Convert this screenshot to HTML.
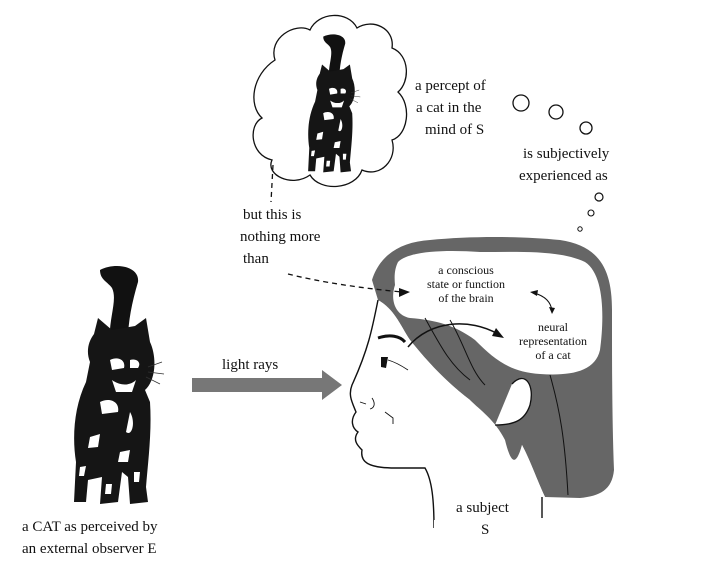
<!DOCTYPE html>
<html><head><meta charset="utf-8"><style>
html,body{margin:0;padding:0;background:#fff;}
svg{display:block}
text{font-family:"Liberation Serif",serif;fill:#111;}
</style></head><body>
<svg width="715" height="574" viewBox="0 0 715 574" xmlns="http://www.w3.org/2000/svg">
<defs>
<g id="cat">
  <path d="M40,8 C55,0 80,4 78,20 C72,40 68,60 68,78 L50,80 C48,58 58,38 52,26 C48,20 40,18 40,8Z" fill="#111"/>
  <path d="M34,72 L38,56 L52,68 L75,64 L86,56 L90,80 C97,95 96,118 85,128 L90,140 C92,170 88,200 86,225 L88,240 L70,242 L68,215 L62,210 L58,240 L40,242 L42,215 L28,218 L26,240 L14,240 L16,200 C12,175 14,145 26,120 L30,100 C26,90 28,80 34,72Z" fill="#151515"/>
  <path d="M50,98 C58,94 66,98 64,106 L52,108Z M70,98 C76,96 82,100 78,106 L70,106Z M52,118 C60,124 70,124 76,118 L72,130 L56,130Z M40,140 C50,135 60,140 58,150 L42,152Z M70,150 C76,160 72,175 66,170Z M30,175 L40,172 L38,185 L28,186Z M60,190 L70,188 L68,200 L58,200Z M20,205 L26,204 L24,214 L19,214Z M46,222 L52,222 L51,232 L45,232Z M74,210 L80,210 L79,220 L74,220Z" fill="#fff"/>
  <path d="M88,105 L102,100 M88,110 L104,112 M86,115 L100,122" stroke="#333" stroke-width="0.8"/>
</g>
</defs>

<path d="M275,60 C268,38 295,22 310,30 C318,12 348,10 357,28 C372,18 395,28 392,48 C410,55 410,82 398,92 C412,105 408,135 392,140 C398,160 380,178 362,170 C355,190 320,192 310,175 C292,188 265,175 272,160 C250,155 248,125 262,118 C248,105 252,75 275,60Z" fill="#fff" stroke="#111" stroke-width="1.3"/>
<use href="#cat" transform="translate(300,32) scale(0.58)"/>

<path d="M273,165 L271,202" stroke="#111" stroke-width="1.3" stroke-dasharray="5,4" fill="none"/>

<circle cx="521" cy="103" r="8" fill="#fff" stroke="#111" stroke-width="1.3"/>
<circle cx="556" cy="112" r="7" fill="#fff" stroke="#111" stroke-width="1.3"/>
<circle cx="586" cy="128" r="6" fill="#fff" stroke="#111" stroke-width="1.3"/>
<circle cx="599" cy="197" r="4" fill="#fff" stroke="#111" stroke-width="1.2"/>
<circle cx="591" cy="213" r="3" fill="#fff" stroke="#111" stroke-width="1.1"/>
<circle cx="580" cy="229" r="2.2" fill="#fff" stroke="#111" stroke-width="1"/>

<use href="#cat" transform="translate(60,262)"/>

<path d="M192,378 L322,378 L322,370 L342,385 L322,400 L322,392 L192,392Z" fill="#777"/>

<path d="M372,280 C380,255 400,242 430,240 C470,236 520,236 560,240 C600,246 612,270 612,310 C612,360 612,420 614,470 C612,490 600,496 580,498 L545,497 C535,475 530,460 522,445 C515,470 525,480 535,488 L490,475 C470,455 470,420 470,400 C450,385 430,365 410,340 C400,325 395,310 378,300Z" fill="#666"/>
<path d="M398,262 C410,250 450,250 480,252 C520,252 560,250 585,262 C605,275 604,320 600,350 C595,372 570,376 540,374 C510,372 495,360 475,340 C455,325 435,320 410,318 C395,315 390,300 395,285 C394,275 395,268 398,262Z" fill="#fff"/>
<path d="M425,318 C440,345 450,365 470,380 M450,320 C465,345 470,370 485,385 M550,375 C560,410 565,440 568,495" stroke="#111" stroke-width="1" fill="none"/>
<path d="M378,300 C372,330 368,350 352,385 C348,395 352,402 356,412 C350,420 352,428 358,432 C352,440 358,446 362,450 C360,462 368,468 395,468 L425,468 C432,480 434,500 434,528 L540,528 L545,497 C535,475 530,460 522,445 C515,470 510,460 505,440 C495,420 480,410 470,400 C450,385 430,365 410,340 C400,325 395,310 378,300Z" fill="#fff"/>
<path d="M378,300 C372,330 368,350 352,385 C348,395 352,402 356,412 C350,420 352,428 358,432 C352,440 358,446 362,450 C360,462 368,468 395,468 L425,468 C432,480 434,500 434,528" stroke="#111" stroke-width="1.4" fill="none"/>
<path d="M542,497 L542,518" stroke="#111" stroke-width="1.4"/>
<rect x="434" y="520" width="110" height="12" fill="#fff"/>
<path d="M512,384 C525,370 535,385 530,405 C525,420 515,425 495,425" stroke="#111" stroke-width="1.3" fill="#fff"/>
<path d="M378,338 C390,334 400,336 405,342" stroke="#111" stroke-width="3" fill="none"/>
<path d="M381,357 L388,357 L386,368 L381,367Z" fill="#111"/>
<path d="M388,360 C395,362 402,366 408,370" stroke="#111" stroke-width="0.8" fill="none"/>
<path d="M360,402 L366,404 M372,398 C376,404 374,408 370,409 M385,412 L393,418 L393,424" stroke="#111" stroke-width="0.9" fill="none"/>

<path d="M408,347 C430,320 470,318 498,334" stroke="#111" stroke-width="1.5" fill="none"/>
<path d="M504,338 L492,336 L496,328Z" fill="#111"/>
<path d="M534,293 C545,296 551,302 552,311" stroke="#111" stroke-width="1.1" fill="none"/>
<path d="M530,292 L538,290 L537,296Z M552,314 L549,307 L555,308Z" fill="#111"/>
<path d="M288,274 C320,282 360,288 402,292" stroke="#111" stroke-width="1.3" stroke-dasharray="5,4" fill="none"/>
<path d="M410,292 L399,288 L399,297Z" fill="#111"/>

<text x="415" y="90" font-size="15">a percept of</text>
<text x="416" y="112" font-size="15">a cat in the</text>
<text x="425" y="134" font-size="15">mind of S</text>
<text x="523" y="158" font-size="15">is subjectively</text>
<text x="519" y="180" font-size="15">experienced as</text>
<text x="243" y="219" font-size="15">but this is</text>
<text x="240" y="241" font-size="15">nothing more</text>
<text x="243" y="263" font-size="15">than</text>
<text x="466" y="274" font-size="12" text-anchor="middle">a conscious</text>
<text x="466" y="288" font-size="12" text-anchor="middle">state or function</text>
<text x="466" y="302" font-size="12" text-anchor="middle">of the brain</text>
<text x="553" y="331" font-size="12" text-anchor="middle">neural</text>
<text x="553" y="345" font-size="12" text-anchor="middle">representation</text>
<text x="553" y="359" font-size="12" text-anchor="middle">of a cat</text>
<text x="222" y="369" font-size="15">light rays</text>
<text x="456" y="512" font-size="15">a subject</text>
<text x="481" y="534" font-size="15">S</text>
<text x="22" y="531" font-size="15">a CAT as perceived by</text>
<text x="22" y="553" font-size="15">an external observer E</text>
</svg>
</body></html>
